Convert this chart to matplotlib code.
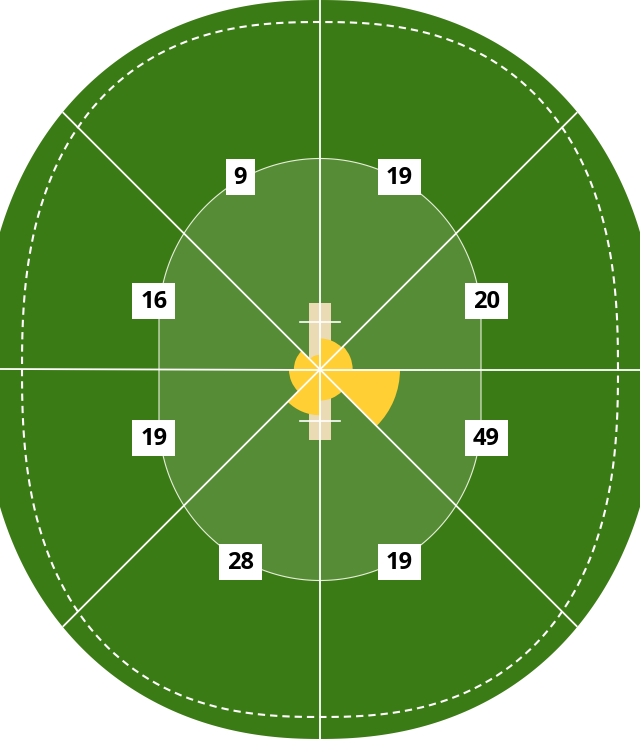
import numpy as np
import matplotlib
matplotlib.use("Agg")
import matplotlib.pyplot as plt
from matplotlib.patches import Polygon, Wedge, Rectangle

# runs per zone, counter-clockwise starting from the "square" side (0 deg = right)
zone_start_deg = [0, 45, 90, 135, 180, 225, 270, 315]
zone_runs = [20, 19, 9, 16, 19, 28, 19, 49]

FIELD = "#3b7b15"
INNER = "#568c36"
SHOTS = "#ffcf33"
PITCH = "#eadbb5"


def superellipse(a, b, n=2.5, num=400):
    t = np.linspace(0, 2 * np.pi, num)
    c, s = np.cos(t), np.sin(t)
    x = a * np.sign(c) * np.abs(c) ** (2 / n)
    y = b * np.sign(s) * np.abs(s) ** (2 / n)
    return np.column_stack([x, y])


def edge_dist(ang, a, b, n=2.5):
    c, s = abs(np.cos(ang)), abs(np.sin(ang))
    return ((c / a) ** n + (s / b) ** n) ** (-1 / n)


def stadium(r, half, num=200):
    top = np.linspace(0, np.pi, num)
    bot = np.linspace(np.pi, 2 * np.pi, num)
    pts = [(r * np.cos(t), half + r * np.sin(t)) for t in top]
    pts += [(r * np.cos(t), -half + r * np.sin(t)) for t in bot]
    return np.array(pts)


fig = plt.figure(figsize=(6.4, 7.39), dpi=100)
ax = fig.add_axes([0, 0, 1, 1])
ax.set_xlim(-320, 320)
ax.set_ylim(-369.5, 369.5)
ax.set_aspect("equal")
ax.axis("off")

# outfield (wider than the canvas, clipped at the sides)
A_OUT, B_OUT, N_OUT = 338, 369.5, 2.2
ax.add_patch(Polygon(superellipse(A_OUT, B_OUT, n=N_OUT), closed=True,
                     fc=FIELD, ec="none", zorder=1))

# boundary rope
rope = superellipse(298, 347.5, n=2.5)
ax.plot(rope[:, 0], rope[:, 1], color="white", lw=1.5,
        linestyle=(0, (3.5, 2.4)), zorder=2)

# 30-yard circle
ax.add_patch(Polygon(stadium(161, 50), closed=True, fc=INNER, ec="#e6efd9",
                     lw=0.8, zorder=2))

# pitch + creases
ax.add_patch(Rectangle((-11, -70), 22, 137, fc=PITCH, ec="none", zorder=3))
for cy in (48, -51):
    ax.plot([-20, 20], [cy, cy], color="white", lw=1.2, zorder=4)

# run wedges
scale = 80 / 49
for start, runs in zip(zone_start_deg, zone_runs):
    ax.add_patch(Wedge((0, 0), runs * scale, start, start + 45,
                       fc=SHOTS, ec="none", zorder=5))

# zone dividers
for start in zone_start_deg:
    ang = np.radians(start)
    d = edge_dist(ang, A_OUT, B_OUT, n=N_OUT)
    ax.plot([0, d * np.cos(ang)], [0, d * np.sin(ang)],
            color="white", lw=1.3, zorder=6, solid_capstyle="butt")

# labels
for start, runs in zip(zone_start_deg, zone_runs):
    mid = np.radians(start + 22.5)
    r = 208 if 45 <= start < 135 or 225 <= start < 315 else 180
    lx, ly = r * np.cos(mid), r * np.sin(mid)
    w = 15 + 14 * len(str(runs))
    ax.add_patch(Rectangle((lx - w / 2, ly - 18), w, 36, fc="white",
                           ec="none", zorder=7))
    ax.text(lx, ly - 1, str(runs), ha="center", va="center", fontsize=17,
            fontweight="bold", family="Open Sans", color="black", zorder=8)

fig.savefig("out.png", dpi=100)
